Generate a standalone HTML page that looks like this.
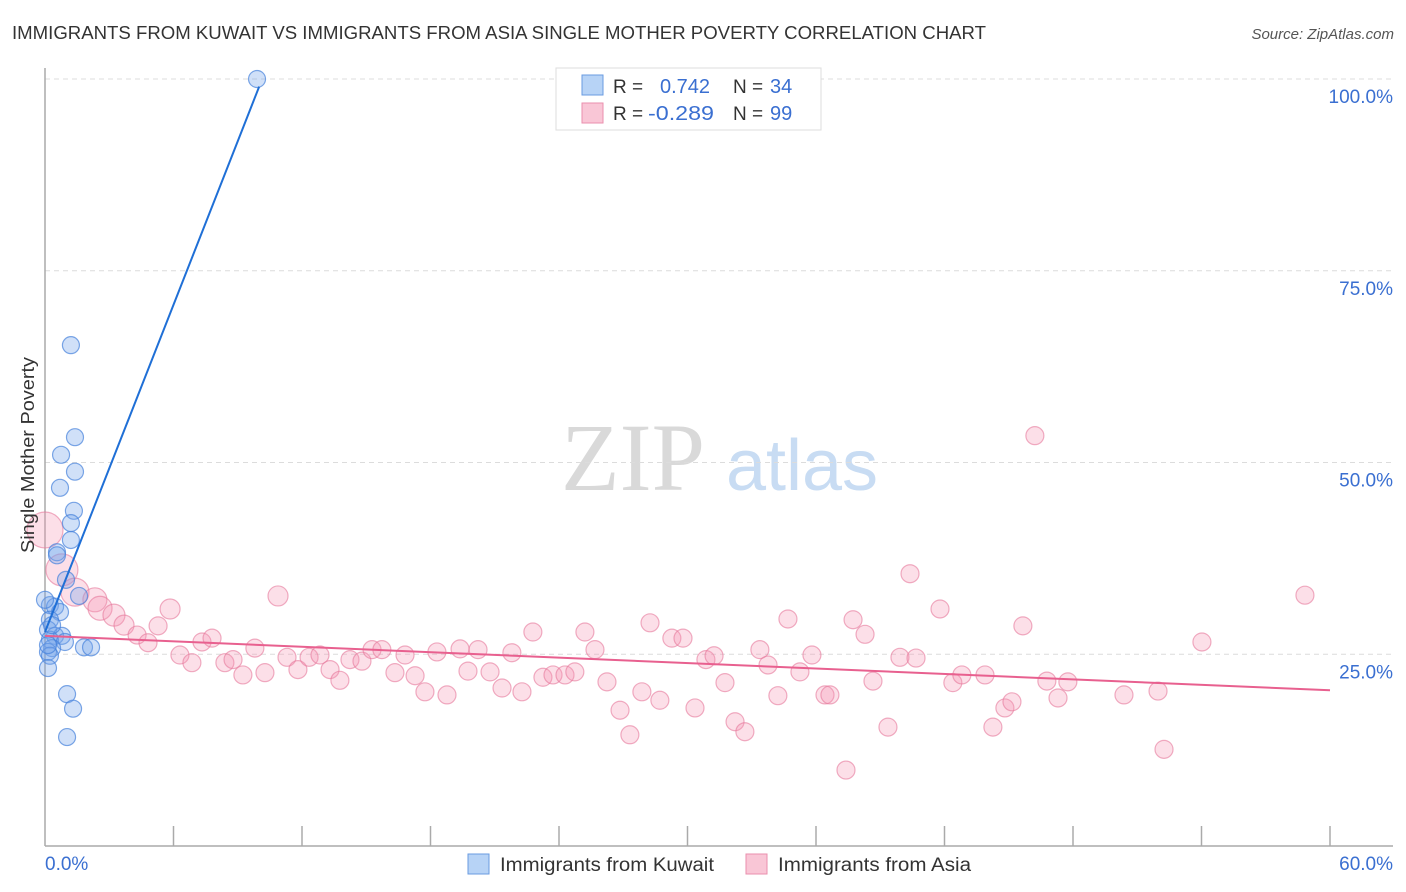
<!DOCTYPE html>
<html><head><meta charset="utf-8"><style>
body{margin:0;background:#fff;font-family:"Liberation Sans",sans-serif;}
svg{display:block}
</style></head><body>
<svg id="c" width="1406" height="892" viewBox="0 0 1406 892">
<text x="12" y="39" font-size="18" fill="#333" textLength="974" lengthAdjust="spacingAndGlyphs">IMMIGRANTS FROM KUWAIT VS IMMIGRANTS FROM ASIA SINGLE MOTHER POVERTY CORRELATION CHART</text>
<text x="1394" y="39" font-size="15" fill="#555" font-style="italic" text-anchor="end">Source: ZipAtlas.com</text>
<g>
<text x="633" y="490" font-size="96" font-family="Liberation Serif,serif" fill="#d9d9d9" text-anchor="middle">ZIP</text>
<text x="802" y="490" font-size="72" fill="#c8dcf3" text-anchor="middle">atlas</text>
</g>
<g id="grid"></g>
<g id="axes"></g>
<g id="pts"></g>
<g id="trend"></g>
<text transform="translate(34,455) rotate(-90)" font-size="18" fill="#333" text-anchor="middle" textLength="196" lengthAdjust="spacingAndGlyphs">Single Mother Poverty</text>
<g>
<rect x="556" y="68" width="265" height="62" fill="#fff" stroke="#ddd"/>
<rect x="582" y="75" width="21" height="20" fill="#b7d3f6" stroke="#6a9be0"/>
<rect x="582" y="103" width="21" height="20" fill="#f9c6d6" stroke="#ea8fad"/>
<text x="613" y="93" font-size="19" fill="#333">R =</text>
<text x="660" y="93" font-size="20" fill="#3a6fd1">0.742</text>
<text x="733" y="93" font-size="19" fill="#333">N =</text>
<text x="770" y="93" font-size="20" fill="#3a6fd1">34</text>
<text x="613" y="120" font-size="19" fill="#333">R =</text>
<text x="648" y="120" font-size="20" fill="#3a6fd1" textLength="66" lengthAdjust="spacingAndGlyphs">-0.289</text>
<text x="733" y="120" font-size="19" fill="#333">N =</text>
<text x="770" y="120" font-size="20" fill="#3a6fd1">99</text>
</g>
<g>
<rect x="468" y="854" width="21" height="20" fill="#b7d3f6" stroke="#6a9be0"/>
<text x="500" y="871" font-size="19" fill="#333" textLength="214" lengthAdjust="spacingAndGlyphs">Immigrants from Kuwait</text>
<rect x="746" y="854" width="21" height="20" fill="#f9c6d6" stroke="#ea8fad"/>
<text x="778" y="871" font-size="19" fill="#333" textLength="193" lengthAdjust="spacingAndGlyphs">Immigrants from Asia</text>
</g>
</svg>
<script>
const blueX=[9.90,1.21,1.40,0.75,1.40,0.70,1.35,1.21,1.21,0.56,0.56,0.98,1.59,0.23,0.47,0.70,0.23,0.14,0.47,0.79,0.23,0.93,0.33,0.14,1.82,2.15,0.23,0.14,1.03,1.31,1.03,0.0,0.33,0.14];
const blueY=[100.0,65.3,53.3,51.0,48.8,46.7,43.7,42.1,39.9,38.3,37.9,34.7,32.6,31.4,31.2,30.5,29.5,28.2,27.4,27.4,26.9,26.6,25.8,25.3,25.9,25.9,24.8,23.2,19.8,17.9,14.2,32.1,28.8,26.2];
const pinkX=[0,0.79,1.40,2.33,2.57,3.22,3.69,4.30,4.81,5.28,5.84,6.30,6.86,7.33,7.80,8.40,8.78,9.24,9.80,10.27,10.88,11.30,11.81,12.33,12.84,13.31,13.77,14.24,14.80,15.27,15.73,16.34,16.81,17.28,17.74,18.30,18.77,19.38,19.75,20.22,20.78,21.34,21.80,22.27,22.78,23.25,23.72,24.28,24.74,25.21,25.68,26.24,26.85,27.31,27.87,28.25,28.71,29.27,29.79,30.35,30.86,31.24,31.75,32.22,32.68,33.38,33.76,34.22,34.69,35.25,35.81,36.42,36.65,37.40,37.73,38.29,38.66,39.36,39.92,40.39,40.67,41.79,42.39,42.81,43.89,44.26,44.82,45.15,45.66,46.22,46.78,47.30,47.76,50.38,51.97,52.25,54.02,58.83];
const pinkY=[41.2,36.0,33.1,32.1,31.0,30.1,28.8,27.5,26.5,28.7,30.9,24.9,23.9,26.6,27.1,23.9,24.3,22.3,25.8,22.6,32.6,24.6,23.0,24.6,24.9,23.0,21.6,24.3,24.1,25.6,25.6,22.6,24.9,22.2,20.1,25.3,19.7,25.7,22.8,25.6,22.7,20.6,25.2,20.1,27.9,22.0,22.3,22.3,22.7,27.9,25.6,21.4,17.7,14.5,20.1,29.1,19.0,27.1,27.1,18.0,24.3,24.8,21.3,16.2,14.9,25.6,23.6,19.6,29.6,22.7,24.9,19.7,19.7,9.9,29.5,27.6,21.5,15.5,24.6,35.5,24.5,30.9,21.3,22.3,22.3,15.5,18.0,18.8,28.7,53.5,21.5,19.3,21.4,19.7,20.2,12.6,26.6,32.7];
const pinkBig=[18,16,14,12,12,11,10,9,9,9,10,9,9,9,9,9,9,9,9,9,10];
const blueTrendX=[0,10];
const blueTrendY=[27.9,99.0];
const pinkTrendX=[0,60];
const pinkTrendY=[27.4,20.3];
const yTicks=[25,50,75,100];
const yTickLabels=["25.0%","50.0%","75.0%","100.0%"];
const xTicks=[0,6,12,18,24,30,36,42,48,54,60];
const xEndLabels=["0.0%","60.0%"];

const X0=45,X1=1330,Y0=846,Y1=79;
const sx=v=>X0+(v/60)*(X1-X0);
const sy=v=>Y0-(v/100)*(Y0-Y1);
const NS="http://www.w3.org/2000/svg";
function mk(tag,attrs,parent){const e=document.createElementNS(NS,tag);for(const k in attrs)e.setAttribute(k,attrs[k]);parent.appendChild(e);return e;}
const grid=document.getElementById('grid'),axes=document.getElementById('axes'),pts=document.getElementById('pts'),trend=document.getElementById('trend');
yTicks.forEach((t,i)=>{
  const l=mk('line',{x1:X0,x2:1393,y1:sy(t),y2:sy(t),stroke:'#dcdcdc','stroke-dasharray':'5,4'},grid);
  
  
  const tx=mk('text',{x:1393,y:sy(t)+24,'font-size':19,fill:'#3a6fd1','text-anchor':'end'},axes);
  tx.textContent=yTickLabels[i];
  
  
});
const ax=mk('line',{x1:X0,x2:X0,y1:68,y2:Y0,stroke:'#aaa','stroke-width':1.5},axes);


const bx=mk('line',{x1:X0,x2:1393,y1:Y0,y2:Y0,stroke:'#aaa','stroke-width':1.5},axes);


xTicks.forEach(t=>{
  if(t===0)return;
  const l=mk('line',{x1:sx(t),x2:sx(t),y1:826,y2:Y0,stroke:'#aaa','stroke-width':1.5},axes);
  
  
});
const xl0=mk('text',{x:45,y:870,'font-size':19,fill:'#3a6fd1'},axes);xl0.textContent=xEndLabels[0];


const xl1=mk('text',{x:1393,y:870,'font-size':19,fill:'#3a6fd1','text-anchor':'end'},axes);xl1.textContent=xEndLabels[1];


pinkX.forEach((v,i)=>{
  const c=mk('circle',{cx:sx(v),cy:sy(pinkY[i]),r:pinkBig[i]||9,fill:'rgba(244,150,180,0.3)',stroke:'rgba(230,120,155,0.6)','stroke-width':1.2},pts);
  
  
});
blueX.forEach((v,i)=>{
  const c=mk('circle',{cx:sx(v),cy:sy(blueY[i]),r:8.5,fill:'rgba(120,165,235,0.35)',stroke:'rgba(70,130,220,0.7)','stroke-width':1.2},pts);
  
  
});
const bt=mk('line',{x1:sx(blueTrendX[0]),y1:sy(blueTrendY[0]),x2:sx(blueTrendX[1]),y2:sy(blueTrendY[1]),stroke:'#1f6fd6','stroke-width':2},trend);


const pt=mk('line',{x1:sx(pinkTrendX[0]),y1:sy(pinkTrendY[0]),x2:sx(pinkTrendX[1]),y2:sy(pinkTrendY[1]),stroke:'#e8608f','stroke-width':2},trend);


</script>
</body></html>
